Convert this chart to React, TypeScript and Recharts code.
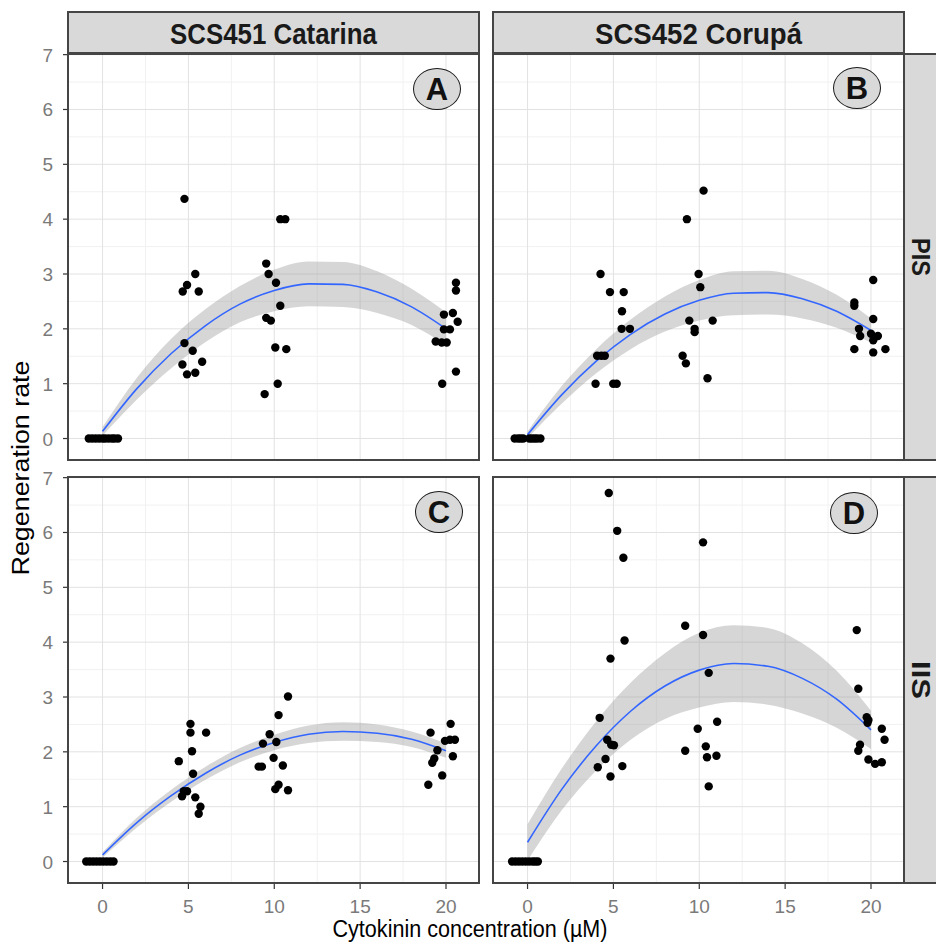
import React from "react";
import {
  ComposedChart,
  Area,
  Line,
  Scatter,
  XAxis,
  YAxis,
  CartesianGrid,
} from "recharts";

// ── Data ──────────────────────────────────────────────────────────────────────

const CULTIVARS = ["SCS451 Catarina", "SCS452 Corupá"];
const EXPLANTS = ["PIS", "IIS"];
const PANEL_LETTERS = ["A", "B", "C", "D"];

const X_MAJOR = [0, 5, 10, 15, 20];
const X_MINOR = [2.5, 7.5, 12.5, 17.5];
const Y_MAJOR = [0, 1, 2, 3, 4, 5, 6, 7];
const Y_MINOR = [0.5, 1.5, 2.5, 3.5, 4.5, 5.5, 6.5];

// points: [concentration (jittered), rate]
const pointsA: [number, number][] = [
  [-0.8, 0], [-0.6, 0], [-0.4, 0], [-0.2, 0], [0, 0], [0.15, 0], [0.35, 0], [0.55, 0], [0.7, 0], [0.9, 0],
  [4.77, 4.37], [5.4, 3.0], [4.92, 2.8], [4.67, 2.68], [5.6, 2.68], [4.77, 1.74], [5.25, 1.6],
  [4.65, 1.35], [5.8, 1.4], [4.92, 1.17], [5.4, 1.2],
  [9.53, 3.19], [9.67, 3.0], [10.1, 2.84], [10.35, 4.0], [10.64, 4.0], [10.35, 2.42], [9.53, 2.2],
  [9.8, 2.15], [10.06, 1.66], [10.7, 1.63], [10.2, 1.0], [9.44, 0.81],
  [20.58, 2.84], [20.58, 2.7], [19.88, 2.26], [20.4, 2.29], [20.68, 2.13], [19.88, 1.99],
  [20.23, 1.99], [19.4, 1.77], [19.75, 1.75], [20.04, 1.75], [20.58, 1.22], [19.78, 1.0],
];

const pointsB: [number, number][] = [
  [-0.75, 0], [-0.55, 0], [-0.4, 0], [-0.25, 0], [0.1, 0], [0.25, 0], [0.4, 0], [0.55, 0], [0.75, 0],
  [4.25, 3.0], [4.8, 2.67], [5.6, 2.67], [5.5, 2.32], [5.48, 2.0], [5.96, 2.0], [4.05, 1.51],
  [4.3, 1.51], [4.5, 1.51], [3.96, 1.0], [4.99, 1.0], [5.19, 1.0],
  [10.25, 4.52], [9.28, 4.0], [9.96, 3.0], [10.06, 2.76], [9.42, 2.15], [10.78, 2.15], [9.73, 2.0],
  [9.73, 1.94], [9.03, 1.51], [9.22, 1.37], [10.48, 1.1],
  [20.13, 2.89], [19.03, 2.48], [19.03, 2.42], [20.13, 2.18], [19.3, 2.0], [19.37, 1.87],
  [20.0, 1.91], [20.4, 1.87], [20.13, 1.79], [19.03, 1.63], [20.13, 1.57], [20.84, 1.63],
];

const pointsC: [number, number][] = [
  [-0.95, 0], [-0.75, 0], [-0.55, 0], [-0.35, 0], [-0.15, 0], [0.05, 0], [0.25, 0], [0.45, 0], [0.64, 0],
  [5.12, 2.51], [5.12, 2.35], [6.03, 2.35], [5.21, 2.01], [4.44, 1.83], [5.27, 1.6], [4.73, 1.28],
  [4.92, 1.28], [4.63, 1.19], [5.4, 1.17], [5.7, 1.0], [5.6, 0.87],
  [10.8, 3.01], [10.25, 2.67], [9.73, 2.32], [9.34, 2.15], [10.12, 2.18], [9.96, 1.89], [9.09, 1.73],
  [9.28, 1.73], [10.5, 1.75], [10.25, 1.4], [10.06, 1.32], [10.8, 1.3],
  [20.27, 2.51], [19.1, 2.35], [19.94, 2.2], [20.23, 2.22], [20.52, 2.22], [19.5, 2.03],
  [19.32, 1.88], [19.2, 1.8], [20.4, 1.92], [19.78, 1.57], [18.97, 1.4],
];

const pointsD: [number, number][] = [
  [-0.9, 0], [-0.7, 0], [-0.5, 0], [-0.3, 0], [-0.1, 0], [0.1, 0], [0.3, 0], [0.45, 0], [0.6, 0],
  [4.73, 6.72], [5.22, 6.03], [5.58, 5.54], [5.65, 4.03], [4.83, 3.7], [4.2, 2.62], [4.64, 2.22],
  [4.87, 2.13], [5.03, 2.12], [4.54, 1.87], [4.09, 1.72], [5.52, 1.74], [4.83, 1.55],
  [10.22, 5.82], [9.18, 4.3], [10.22, 4.13], [10.55, 3.44], [11.04, 2.55], [9.91, 2.42],
  [10.38, 2.1], [9.18, 2.02], [10.45, 1.9], [11.0, 1.93], [10.55, 1.37],
  [19.17, 4.22], [19.26, 3.15], [19.75, 2.63], [19.85, 2.58], [19.8, 2.53], [20.63, 2.42],
  [20.79, 2.22], [19.36, 2.13], [19.26, 2.02], [19.85, 1.86], [20.24, 1.78], [20.63, 1.81],
];

// fitted curve and its confidence band, read at these concentrations
const CURVE_X = [0, 2, 4, 6, 8, 10, 12, 14, 16, 18, 20];

const fitA = [0.13, 0.91, 1.55, 2.06, 2.45, 2.7, 2.82, 2.81, 2.67, 2.4, 2.0];
const lowA = [0.05, 0.71, 1.28, 1.76, 2.12, 2.32, 2.41, 2.4, 2.29, 2.07, 1.7];
const highA = [0.21, 1.11, 1.82, 2.36, 2.78, 3.08, 3.23, 3.22, 3.05, 2.73, 2.3];

const fitB = [0.07, 0.8, 1.41, 1.9, 2.27, 2.52, 2.65, 2.66, 2.55, 2.32, 1.97];
const lowB = [0.01, 0.64, 1.19, 1.63, 1.95, 2.15, 2.25, 2.26, 2.19, 2.02, 1.75];
const highB = [0.13, 0.96, 1.63, 2.17, 2.59, 2.89, 3.05, 3.06, 2.91, 2.62, 2.19];

const fitC = [0.12, 0.71, 1.2, 1.61, 1.94, 2.17, 2.32, 2.37, 2.34, 2.23, 2.02];
const lowC = [0.07, 0.62, 1.09, 1.49, 1.81, 2.03, 2.16, 2.2, 2.18, 2.09, 1.89];
const highC = [0.17, 0.8, 1.31, 1.73, 2.07, 2.31, 2.48, 2.54, 2.5, 2.37, 2.15];

const fitD = [0.35, 1.32, 2.11, 2.74, 3.2, 3.49, 3.61, 3.56, 3.34, 2.96, 2.4];
const lowD = [0.02, 0.94, 1.66, 2.22, 2.6, 2.81, 2.91, 2.86, 2.7, 2.44, 2.05];
const highD = [0.68, 1.7, 2.56, 3.26, 3.8, 4.17, 4.31, 4.26, 3.98, 3.48, 2.75];

// ── Layout ────────────────────────────────────────────────────────────────────

const X_DOMAIN: [number, number] = [-2.07, 21.98];
const Y_DOMAIN: [number, number] = [-0.41, 7.03];

const PLOT_W = 413;
const PLOT_H = 408;
const COL_LEFT = [67, 492];
const ROW_TOP = [53, 476];
const Y_AXIS_W = 67;
const X_AXIS_H = 56;
const PAD = 10;

const FONT = "'Liberation Sans', Arial, sans-serif";
const BORDER = "#454545";

function XTick(p: any) {
  return (
    <g>
      <line x1={p.x} x2={p.x} y1={p.y} y2={p.y + 5} stroke="#333" strokeWidth={1.2} />
      <text x={p.x} y={p.y + 29} textAnchor="middle" fill="#7a7a7a" fontSize={19} fontFamily={FONT}>
        {p.payload.value}
      </text>
    </g>
  );
}

function YTick(p: any) {
  return (
    <g>
      <line x1={p.x - 4} x2={p.x} y1={p.y} y2={p.y} stroke="#333" strokeWidth={1.2} />
      <text x={p.x - 14} y={p.y + 7} textAnchor="end" fill="#7a7a7a" fontSize={19} fontFamily={FONT}>
        {p.payload.value}
      </text>
    </g>
  );
}

function Dot(p: any) {
  return <circle cx={p.cx} cy={p.cy} r={4.2} fill="#000" />;
}

function Panel({
  points,
  fit,
  low,
  high,
  showX,
  showY,
}: {
  points: [number, number][];
  fit: number[];
  low: number[];
  high: number[];
  showX: boolean;
  showY: boolean;
}) {
  const curve = CURVE_X.map((x, i) => ({ x, fit: fit[i], band: [low[i], high[i]] }));
  const pts = points.map(([x, y]) => ({ x, y }));
  return (
    <ComposedChart
      width={PLOT_W + (showY ? Y_AXIS_W : 0)}
      height={PLOT_H + PAD + (showX ? X_AXIS_H : PAD)}
      data={curve}
      margin={{ top: PAD, right: 0, bottom: showX ? 0 : PAD, left: 0 }}
    >
      <CartesianGrid verticalValues={X_MINOR} horizontalValues={Y_MINOR} stroke="#f1f1f1" strokeWidth={1} />
      <CartesianGrid verticalValues={X_MAJOR} horizontalValues={Y_MAJOR} stroke="#e2e2e2" strokeWidth={1} />
      <XAxis
        type="number"
        dataKey="x"
        domain={X_DOMAIN}
        ticks={X_MAJOR}
        interval={0}
        allowDataOverflow
        hide={!showX}
        height={X_AXIS_H}
        axisLine={false}
        tickLine={false}
        tickSize={0}
        tickMargin={0}
        tick={XTick}
      />
      <YAxis
        type="number"
        dataKey="y"
        domain={Y_DOMAIN}
        ticks={Y_MAJOR}
        interval={0}
        allowDataOverflow
        hide={!showY}
        width={Y_AXIS_W}
        axisLine={false}
        tickLine={false}
        tickSize={0}
        tickMargin={0}
        tick={YTick}
      />
      <Area
        dataKey="band"
        type="monotone"
        stroke="none"
        fill="#999999"
        fillOpacity={0.4}
        isAnimationActive={false}
      />
      <Scatter data={pts} shape={Dot} isAnimationActive={false} />
      <Line
        dataKey="fit"
        type="monotone"
        stroke="#3366FF"
        strokeWidth={1.6}
        dot={false}
        isAnimationActive={false}
      />
    </ComposedChart>
  );
}

const LETTER_POS = [
  [437, 89],
  [857, 88],
  [439, 512],
  [854, 513],
];

export default function App() {
  const panels = [
    { points: pointsA, fit: fitA, low: lowA, high: highA },
    { points: pointsB, fit: fitB, low: lowB, high: highB },
    { points: pointsC, fit: fitC, low: lowC, high: highC },
    { points: pointsD, fit: fitD, low: lowD, high: highD },
  ];

  return (
    <div
      style={{
        position: "absolute",
        left: 0,
        top: 0,
        width: 936,
        height: 944,
        overflow: "hidden",
        background: "#fff",
        fontFamily: FONT,
      }}
    >
      {panels.map((p, i) => {
        const row = Math.floor(i / 2);
        const col = i % 2;
        const showY = col === 0;
        return (
          <div
            key={i}
            style={{
              position: "absolute",
              left: showY ? 0 : COL_LEFT[col],
              top: ROW_TOP[row] - PAD,
            }}
          >
            <Panel {...p} showX={row === 1} showY={showY} />
          </div>
        );
      })}

      {/* panel borders */}
      {panels.map((_, i) => (
        <div
          key={"b" + i}
          style={{
            position: "absolute",
            left: COL_LEFT[i % 2],
            top: ROW_TOP[Math.floor(i / 2)],
            width: PLOT_W,
            height: PLOT_H,
            border: `2px solid ${BORDER}`,
            boxSizing: "border-box",
            pointerEvents: "none",
          }}
        />
      ))}

      {/* top strips */}
      {CULTIVARS.map((name, c) => (
        <svg
          key={name}
          width={PLOT_W}
          height={43}
          style={{ position: "absolute", left: COL_LEFT[c], top: 11 }}
        >
          <rect x={1} y={1} width={PLOT_W - 2} height={41} fill="#d9d9d9" stroke={BORDER} strokeWidth={2} />
          <text
            x={PLOT_W / 2}
            y={33}
            textAnchor="middle"
            fontSize={29}
            fontWeight={700}
            fill="#1a1a1a"
            fontFamily={FONT}
            textLength={207}
            lengthAdjust="spacingAndGlyphs"
          >
            {name}
          </text>
        </svg>
      ))}

      {/* right strips (run off the right edge, as in the original) */}
      {EXPLANTS.map((name, r) => (
        <svg
          key={name}
          width={33}
          height={PLOT_H}
          style={{ position: "absolute", left: 903, top: ROW_TOP[r] }}
        >
          <rect x={1} y={1} width={50} height={PLOT_H - 2} fill="#d9d9d9" stroke={BORDER} strokeWidth={2} />
          <text
            x={18}
            y={PLOT_H / 2 + 9}
            transform={`rotate(90 18 ${PLOT_H / 2})`}
            textAnchor="middle"
            fontSize={25}
            fontWeight={700}
            fill="#1a1a1a"
            fontFamily={FONT}
            textLength={38}
            lengthAdjust="spacingAndGlyphs"
          >
            {name}
          </text>
        </svg>
      ))}

      {/* panel letters */}
      {PANEL_LETTERS.map((l, i) => (
        <div
          key={l}
          style={{
            position: "absolute",
            left: LETTER_POS[i][0] - 24,
            top: LETTER_POS[i][1] - 21,
            width: 48,
            height: 42,
            borderRadius: "50%",
            border: "1.5px solid #1a1a1a",
            background: "#d9d9d9",
            boxSizing: "border-box",
            display: "flex",
            alignItems: "center",
            justifyContent: "center",
            fontSize: 31,
            fontWeight: 700,
            color: "#111",
            lineHeight: 1,
          }}
        >
          {l}
        </div>
      ))}

      {/* axis titles */}
      <svg width={936} height={944} style={{ position: "absolute", left: 0, top: 0, pointerEvents: "none" }}>
        <text
          x={29}
          y={468}
          transform="rotate(-90 29 468)"
          textAnchor="middle"
          fontSize={23}
          fill="#000"
          fontFamily={FONT}
          textLength={215}
          lengthAdjust="spacingAndGlyphs"
        >
          Regeneration rate
        </text>
        <text
          x={470}
          y={937}
          textAnchor="middle"
          fontSize={23}
          fill="#000"
          fontFamily={FONT}
          textLength={275}
          lengthAdjust="spacingAndGlyphs"
        >
          Cytokinin concentration (µM)
        </text>
      </svg>
    </div>
  );
}
